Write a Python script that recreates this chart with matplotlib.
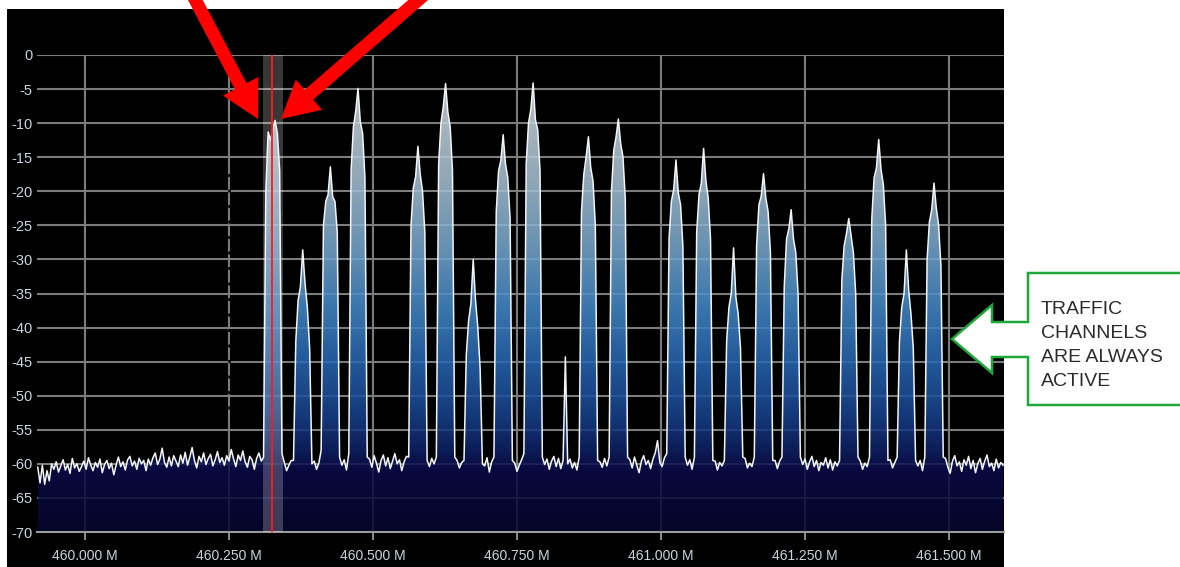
import numpy as np
import matplotlib
matplotlib.use("Agg")
import matplotlib.pyplot as plt
from matplotlib.colors import LinearSegmentedColormap
from matplotlib.patches import Polygon, Rectangle, FancyArrow

plt.rcParams['font.family'] = ['Liberation Sans', 'DejaVu Sans']

# ---------------- data ----------------
freq_start_mhz = 459.918
freq_step_mhz = 0.004
# spectrum level (dB), one value per frequency bin
level_db = [
    # noise floor, left
    -60.5, -62.8, -60.2, -63.0, -61.0, -62.5, -60.0, -60.8, -59.7, -61.2,
    -60.3, -59.4, -60.9, -60.1, -61.4, -59.2, -60.6, -60.0, -61.1, -60.4,
    -59.6, -60.8, -59.1, -60.2, -61.0, -59.8, -60.5, -59.3, -61.3, -60.1,
    -59.5, -60.7, -59.9, -61.6, -60.2, -59.0, -60.4, -59.7, -60.9, -59.4,
    -58.9, -60.3, -59.6, -60.8, -59.2, -60.0, -59.5, -61.0, -59.3, -60.2,
    -59.1, -58.4, -60.1, -59.3, -57.7, -59.8, -60.5, -59.0, -60.3, -58.8,
    -59.6, -60.4, -58.7, -59.9, -58.3, -60.2, -59.0, -57.6, -59.5, -60.6,
    -58.9, -59.7, -58.4, -60.1, -59.2, -58.6, -60.3, -59.4, -58.2, -59.8,
    -59.1, -60.2, -58.8, -59.6, -57.9, -59.3, -60.4, -58.7, -59.5, -58.1,
    -59.7, -60.5, -58.9, -59.4, -60.8, -59.2, -58.4, -59.6,
    # ch 1 (marked)
    -59.0, -20.0, -11.3, -12.5, -11.0, -9.6, -11.5, -17.0, -58.5,
    -59.8, -61.0, -60.2, -59.5,
    # ch 2
    -59.5, -42.0, -36.0, -34.0, -28.6, -33.5, -37.0, -43.0, -60.0,
    -59.6, -60.8, -59.9,
    # ch 3
    -58.0, -25.0, -21.5, -20.5, -16.4, -20.8, -21.5, -26.0, -59.0,
    -60.2, -59.4, -60.9,
    # ch 4
    -58.5, -17.0, -10.5, -8.3, -4.9, -9.8, -11.5, -18.0, -59.0,
    -59.3, -60.5, -58.8, -59.9, -61.2, -59.5, -58.7, -60.3, -59.1, -60.7,
    -59.6, -58.5, -60.0, -59.4, -61.0, -59.7, -58.9,
    # ch 5
    -59.0, -25.0, -19.5, -17.9, -13.4, -17.5, -20.0, -26.0, -59.5,
    -60.4, -59.2, -60.0,
    # ch 6
    -59.0, -16.0, -10.0, -7.6, -4.2, -8.4, -10.5, -17.0, -59.0,
    -59.5, -60.6, -59.8,
    # ch 7
    -59.5, -44.0, -39.0, -36.5, -30.0, -36.0, -40.0, -46.0, -60.0,
    -60.3, -59.1, -61.2, -59.7,
    # ch 8
    -59.0, -23.0, -17.0, -15.5, -11.7, -16.0, -18.0, -24.0, -59.5,
    -59.9, -61.1, -60.2, -59.4,
    # ch 9
    -58.5, -16.0, -10.0, -8.0, -4.1, -9.5, -11.0, -17.0, -59.0,
    -60.1, -59.3, -60.8, -59.6, -58.9, -60.4, -59.2, -60.7, -59.5,
    -44.3,
    -60.0, -59.3, -60.6, -59.8, -60.9,
    # ch 10
    -59.0, -23.0, -17.5, -15.0, -12.0, -16.5, -18.5, -25.0, -59.5,
    -59.7, -60.5, -59.2, -60.3,
    # ch 11
    -59.0, -20.0, -14.0, -12.0, -9.4, -13.0, -15.0, -21.0, -59.0,
    -59.4, -60.6, -59.0, -60.2, -61.3, -59.6, -58.8, -60.1, -59.5, -60.7,
    -59.3, -58.4, -56.6, -59.8, -60.4, -59.1,
    # ch 12
    -58.5, -27.0, -21.5, -19.8, -15.4, -20.2, -22.0, -28.0, -59.0,
    -60.2, -59.4, -60.8,
    # ch 13
    -59.0, -26.0, -20.5, -18.8, -13.7, -18.5, -21.0, -27.0, -59.5,
    -59.6, -60.9, -59.8, -60.3,
    # ch 14
    -59.5, -42.0, -37.0, -35.0, -28.3, -35.5, -38.0, -43.0, -59.0,
    -59.2, -60.6, -59.9, -60.4,
    # ch 15
    -59.0, -28.0, -22.0, -20.7, -17.4, -21.0, -23.0, -29.0, -59.5,
    -59.5, -60.7, -59.6,
    # ch 16
    -59.0, -34.0, -27.0, -25.5, -22.7, -27.0, -29.0, -35.0, -59.0,
    -60.1, -59.3, -60.8, -59.7, -58.9, -60.4, -59.5, -61.0, -59.8, -60.2,
    -59.1, -60.6, -59.4, -60.9, -59.7, -60.3,
    # ch 17
    -59.5, -33.0, -28.0, -26.2, -24.0, -26.5, -29.0, -35.0, -59.0,
    -59.6, -60.8, -59.9, -60.4,
    # ch 18
    -59.0, -24.0, -18.0, -16.6, -12.4, -16.8, -19.0, -25.0, -59.5,
    -59.4, -60.6, -59.8,
    # ch 19
    -59.0, -42.0, -37.0, -35.0, -28.6, -34.5, -38.0, -43.0, -59.5,
    -60.3, -59.5, -61.0,
    # ch 20
    -59.0, -30.0, -24.5, -22.7, -18.8, -22.5, -25.0, -31.0, -59.0,
    # noise floor, right
    -59.2, -60.5, -61.4, -59.6, -58.8, -60.3, -59.7, -61.1, -59.4, -60.2,
    -58.9, -60.7, -59.5, -61.3, -60.0, -59.2, -60.8, -59.6, -58.7, -60.4,
    -59.9, -61.0, -59.3, -60.6, -59.8, -60.2,
]

x_min_mhz, x_max_mhz = 459.9167, 461.5955
y_min_db, y_max_db = -70, 0
x_ticks_mhz = [460.000, 460.250, 460.500, 460.750, 461.000, 461.250, 461.500]
x_tick_labels = [f"{v:.3f} M" for v in x_ticks_mhz]
y_ticks_db = [0, -5, -10, -15, -20, -25, -30, -35, -40, -45, -50, -55, -60, -65, -70]
y_tick_labels = ["0", "-5", "-10", "-15", "-20", "-25", "-30", "-35", "-40",
                 "-45", "-50", "-55", "-60", "-65", "-70"]

marker_mhz = 460.3247
band_lo_mhz, band_hi_mhz = 460.3090, 460.3438
callout_lines = ["TRAFFIC", "CHANNELS", "ARE ALWAYS", "ACTIVE"]

# ---------------- figure ----------------
W, H = 1180, 567
fig = plt.figure(figsize=(W / 100, H / 100), dpi=100, facecolor='white')

# black screenshot panel
fig.add_artist(Rectangle((7 / W, 0), (1004 - 7) / W, (H - 9) / H,
                         transform=fig.transFigure, facecolor='black',
                         edgecolor='none', zorder=0))

ax = fig.add_axes([37 / W, (H - 532) / H, (1004 - 37) / W, (532 - 55) / H])
ax.set_facecolor('black')

freq = freq_start_mhz + freq_step_mhz * np.arange(len(level_db))
level = np.array(level_db)

# grid (beneath translucent fill)
ax.set_axisbelow(True)
ax.grid(True, color='#7c7c7c', linewidth=1.5)

# gradient fill under the trace
cmap = LinearSegmentedColormap.from_list('spec', [
    (0.000, '#06062e'),
    (0.129, '#0b0b4a'),
    (0.171, '#0f2266'),
    (0.243, '#18438f'),
    (0.357, '#2868b4'),
    (0.471, '#458bca'),
    (0.600, '#7aaad0'),
    (0.743, '#aac4d6'),
    (0.886, '#c8d6df'),
    (1.000, '#d6dfe4'),
])
verts = np.column_stack([np.r_[freq, freq[-1], freq[0]],
                         np.r_[level, y_min_db, y_min_db]])
clip = Polygon(verts, closed=True, transform=ax.transData,
               facecolor='none', edgecolor='none')
ax.add_patch(clip)
grad = np.linspace(0, 1, 512).reshape(-1, 1)
im = ax.imshow(grad, extent=[x_min_mhz, x_max_mhz, y_min_db, y_max_db],
               origin='lower', aspect='auto', cmap=cmap, alpha=0.86,
               zorder=2, interpolation='bilinear')
im.set_clip_path(clip)

ax.plot(freq, level, color='#f2f4f6', linewidth=1.1, zorder=4)

# black dotted artefact on the 460.250 grid line
ax.vlines(460.25, -52, -17, colors='black', linestyles=(0, (1.2, 5)),
          linewidth=1.8, zorder=3)

# selection band and marker
ax.axvspan(band_lo_mhz, band_hi_mhz, color='white', alpha=0.22, lw=0, zorder=5)
ax.axvline(marker_mhz, color='#ff1a1a', linewidth=1.3, zorder=6)

ax.set_xlim(x_min_mhz, x_max_mhz)
ax.set_ylim(y_min_db, y_max_db)
ax.set_xticks(x_ticks_mhz)
ax.set_xticklabels(x_tick_labels)
ax.set_yticks(y_ticks_db)
ax.set_yticklabels(y_tick_labels)
lab_col = '#cad4de'
ax.tick_params(axis='y', length=0, pad=3, labelsize=10.5, labelcolor=lab_col)
ax.tick_params(axis='x', length=6, width=1.3, color='#9a9a9a', pad=6,
               labelsize=10, labelcolor=lab_col)
for s in ['top', 'left', 'right']:
    ax.spines[s].set_visible(False)
ax.spines['bottom'].set_color('#9a9a9a')
ax.spines['bottom'].set_linewidth(1.5)

# ---------------- overlay annotations (pixel coordinates) ----------------
ov = fig.add_axes([0, 0, 1, 1], zorder=10)
ov.set_xlim(0, W)
ov.set_ylim(H, 0)
ov.axis('off')
ov.patch.set_alpha(0)


def red_arrow(tail, tip):
    dx, dy = tip[0] - tail[0], tip[1] - tail[1]
    ov.add_patch(FancyArrow(tail[0], tail[1], dx, dy, width=13,
                            head_width=40, head_length=37,
                            length_includes_head=True, color='#ff0000',
                            linewidth=0, clip_on=False))


red_arrow((189, -12), (258, 119))
red_arrow((432, -12), (281, 119))

callout = Polygon([(952, 339), (992, 305), (992, 322), (1028, 322),
                   (1028, 273), (1190, 273), (1190, 405), (1028, 405),
                   (1028, 357), (992, 357), (992, 373)], closed=True,
                  facecolor='white', edgecolor='#1fa83a', linewidth=1.8,
                  joinstyle='miter', clip_on=False)
ov.add_patch(callout)
for line, base in zip(callout_lines, [313.5, 337.7, 362.0, 386.3]):
    ov.text(1041, base, line, fontsize=14, color='#2b2b2b',
            ha='left', va='baseline')

fig.savefig('out.png', dpi=100, facecolor='white')
